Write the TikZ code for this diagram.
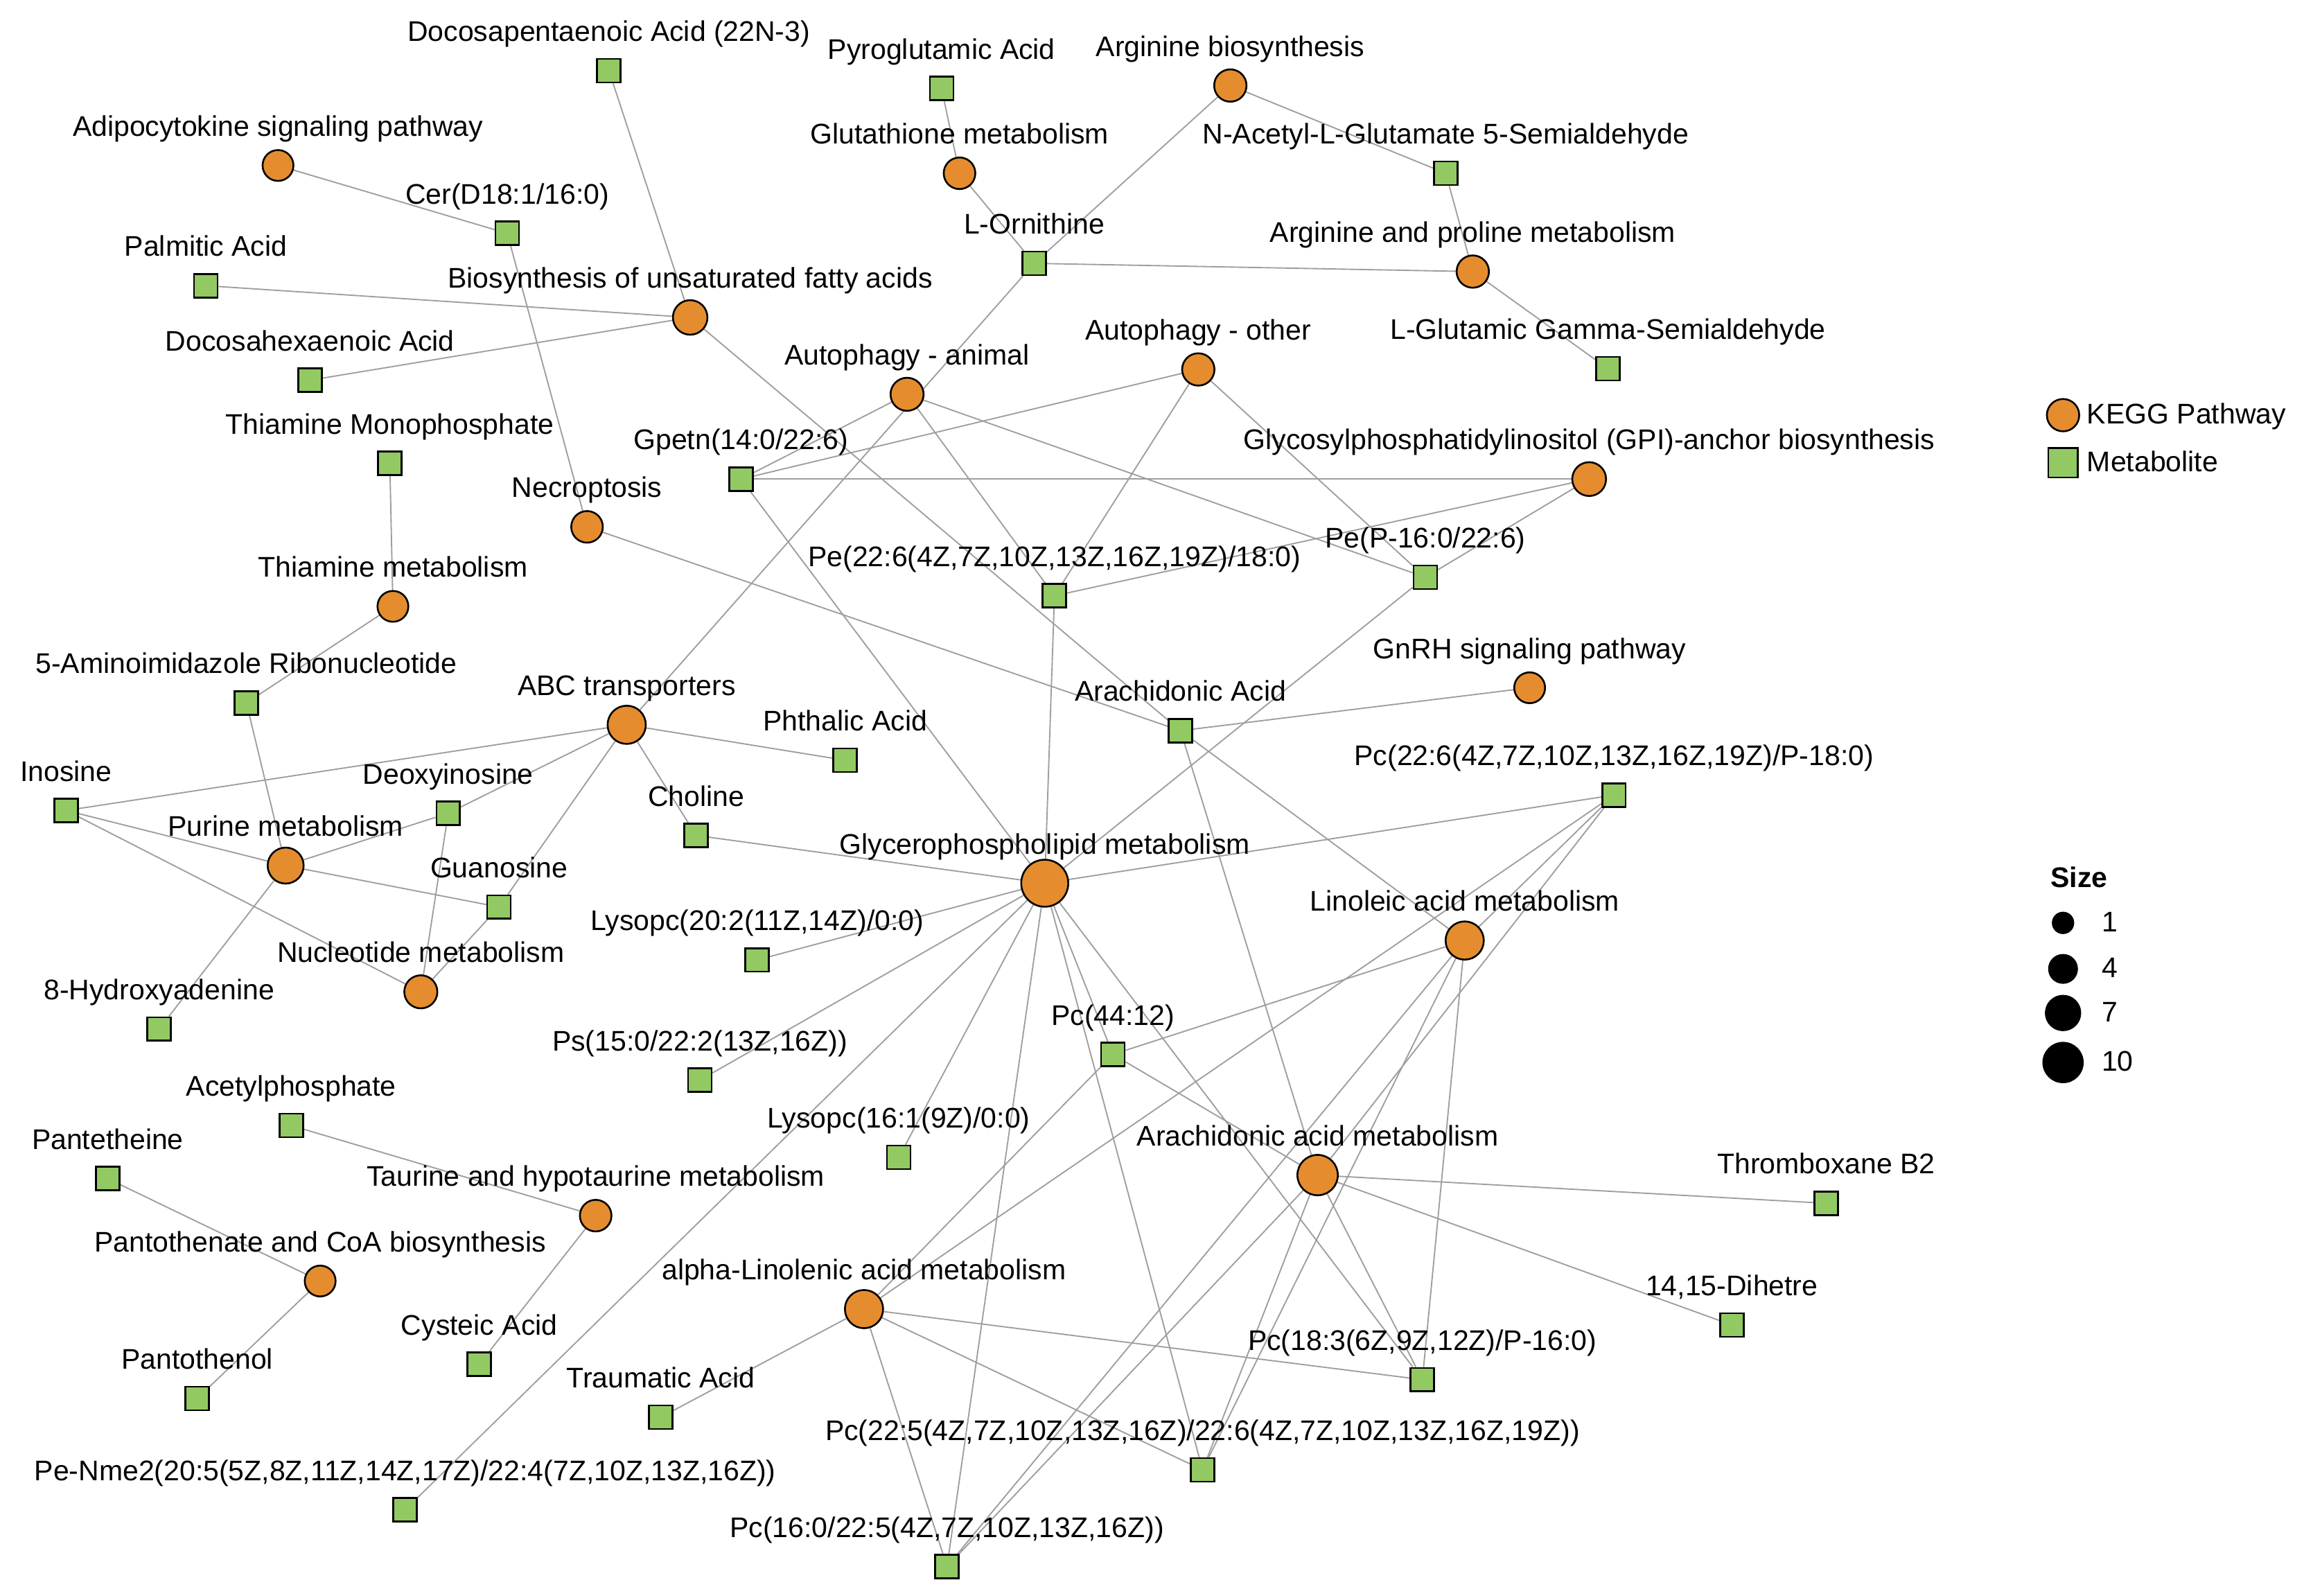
\documentclass[tikz,border=0pt]{standalone}
\usepackage{fontspec}
\setmainfont{Liberation Sans}
\pgfdeclarelayer{bg}
\pgfsetlayers{bg,main}
\definecolor{pathorange}{RGB}{229,141,46}
\definecolor{metgreen}{RGB}{147,201,99}
\definecolor{edgegray}{RGB}{158,158,158}
\tikzset{
  pw/.style={circle, draw=black, line width=0.7pt, fill=pathorange, minimum size=#1*0.02cm, inner sep=0pt},
  met/.style={rectangle, draw=black, line width=0.7pt, fill=metgreen, minimum size=0.32cm, inner sep=0pt},
  lbl/.style={font=\fontsize{11}{13}\selectfont, anchor=base, inner sep=0pt},
  legtext/.style={font=\fontsize{11}{13}\selectfont, anchor=base west, inner sep=0pt},
  link/.style={draw=edgegray, line width=0.5pt},
  sizedot/.style={circle, fill=black, minimum size=#1*0.02cm, inner sep=0pt},
}
\newcommand{\pwnode}[5]{\node[pw=#4] (#1) at (#2,#3) {}; \node[lbl] (#1-l) at (#2,#3-20) {#5};}
\newcommand{\metnode}[4]{\node[met] (#1) at (#2,#3) {}; \node[lbl] (#1-l) at (#2,#3-20) {#4};}

\begin{document}
\begin{tikzpicture}[x=0.02cm,y=-0.02cm]
\useasboundingbox (0,0) rectangle (1568,1086);

% pathways
\pwnode{adipo}{189.2}{112.6}{21}{Adipocytokine signaling pathway}
\pwnode{bufa}{469.7}{216}{23.5}{Biosynthesis of unsaturated fatty acids}
\pwnode{gluta}{653}{117.9}{21.5}{Glutathione metabolism}
\pwnode{argbio}{837.3}{58.2}{22}{Arginine biosynthesis}
\pwnode{argpro}{1002.3}{184.8}{22}{Arginine and proline metabolism}
\pwnode{autoan}{617.3}{268.3}{22.5}{Autophagy - animal}
\pwnode{autoot}{815.5}{251.4}{22}{Autophagy - other}
\pwnode{gpi}{1081.5}{326}{23}{Glycosylphosphatidylinositol (GPI)-anchor biosynthesis}
\pwnode{necro}{399.5}{358.5}{21.5}{Necroptosis}
\pwnode{thiam}{267.4}{412.6}{21}{Thiamine metabolism}
\pwnode{abc}{426.5}{493.2}{26}{ABC transporters}
\pwnode{gnrh}{1041}{468}{21}{GnRH signaling pathway}
\pwnode{purine}{194.4}{589}{24.5}{Purine metabolism}
\pwnode{gpl}{711}{601}{32}{Glycerophospholipid metabolism}
\pwnode{linol}{996.8}{640}{26}{Linoleic acid metabolism}
\pwnode{nucl}{286.4}{674.9}{22.5}{Nucleotide metabolism}
\pwnode{aam}{896.7}{799.6}{27.5}{Arachidonic acid metabolism}
\pwnode{taur}{405.4}{827.2}{21.5}{Taurine and hypotaurine metabolism}
\pwnode{panto}{217.9}{871.7}{21}{Pantothenate and CoA biosynthesis}
\pwnode{alin}{588}{890.8}{26}{alpha-Linolenic acid metabolism}

% metabolites
\metnode{dpa}{414.4}{48.1}{Docosapentaenoic Acid (22N-3)}
\metnode{pyro}{640.8}{60.2}{Pyroglutamic Acid}
\metnode{nag}{983.9}{117.9}{N-Acetyl-L-Glutamate 5-Semialdehyde}
\metnode{cer}{345.2}{158.8}{Cer(D18:1/16:0)}
\metnode{palm}{140.1}{194.4}{Palmitic Acid}
\metnode{orn}{703.8}{179.2}{L-Ornithine}
\metnode{dha}{211}{258.7}{Docosahexaenoic Acid}
\metnode{lglu}{1094.3}{250.9}{L-Glutamic Gamma-Semialdehyde}
\metnode{tmp}{265.3}{315.2}{Thiamine Monophosphate}
\metnode{gpetn}{504.3}{326}{Gpetn(14:0/22:6)}
\metnode{pea}{717.6}{405.4}{Pe(22:6(4Z,7Z,10Z,13Z,16Z,19Z)/18:0)}
\metnode{pep}{970}{392.8}{Pe(P-16:0/22:6)}
\metnode{air}{167.7}{478.3}{5-Aminoimidazole Ribonucleotide}
\metnode{aa}{803.4}{497.2}{Arachidonic Acid}
\metnode{phth}{575.1}{517.3}{Phthalic Acid}
\metnode{ino}{45}{551.5}{Inosine}
\metnode{dino}{305}{553.4}{Deoxyinosine}
\metnode{chol}{473.8}{568.5}{Choline}
\metnode{pcb}{1098.4}{541}{Pc(22:6(4Z,7Z,10Z,13Z,16Z,19Z)/P-18:0)}
\metnode{guan}{339.6}{617.2}{Guanosine}
\metnode{lysa}{515.3}{653.2}{Lysopc(20:2(11Z,14Z)/0:0)}
\metnode{oha}{108.3}{700.2}{8-Hydroxyadenine}
\metnode{pcc}{757.4}{717.5}{Pc(44:12)}
\metnode{psa}{476.3}{735}{Ps(15:0/22:2(13Z,16Z))}
\metnode{acet}{198.2}{765.9}{Acetylphosphate}
\metnode{lysb}{611.7}{787.5}{Lysopc(16:1(9Z)/0:0)}
\metnode{pant}{73.3}{802}{Pantetheine}
\metnode{txb}{1242.9}{818.8}{Thromboxane B2}
\metnode{cyst}{326.2}{928.3}{Cysteic Acid}
\metnode{dihe}{1178.6}{901.6}{14,15-Dihetre}
\metnode{pcd}{968}{938.8}{Pc(18:3(6Z,9Z,12Z)/P-16:0)}
\metnode{pantol}{134.2}{951.6}{Pantothenol}
\metnode{traum}{449.6}{964.4}{Traumatic Acid}
\metnode{pce}{818.4}{1000.2}{Pc(22:5(4Z,7Z,10Z,13Z,16Z)/22:6(4Z,7Z,10Z,13Z,16Z,19Z))}
\metnode{penm}{275.7}{1027.4}{Pe-Nme2(20:5(5Z,8Z,11Z,14Z,17Z)/22:4(7Z,10Z,13Z,16Z))}
\metnode{pcf}{644.5}{1066}{Pc(16:0/22:5(4Z,7Z,10Z,13Z,16Z))}

\begin{pgfonlayer}{bg}
\fill[white] (0,0) rectangle (1568,1086);
\foreach \a/\b in {adipo/cer, cer/necro, dpa/bufa, palm/bufa, dha/bufa, bufa/aa,
  pyro/gluta, gluta/orn, argbio/orn, argbio/nag, nag/argpro, orn/argpro, argpro/lglu, orn/abc,
  autoan/gpetn, autoan/pea, autoan/pep, autoot/gpetn, autoot/pea, autoot/pep,
  gpi/gpetn, gpi/pea, gpi/pep, necro/aa, tmp/thiam, thiam/air, air/purine,
  ino/abc, ino/purine, ino/nucl, dino/abc, dino/purine, dino/nucl,
  guan/purine, guan/abc, guan/nucl, oha/purine, chol/abc, chol/gpl, phth/abc,
  gnrh/aa, aa/linol, aa/aam,
  gpl/gpetn, gpl/pea, gpl/pep, gpl/pcb, gpl/lysa, gpl/psa, gpl/penm, gpl/lysb,
  gpl/pcf, gpl/pce, gpl/pcc, gpl/pcd,
  linol/pcc, linol/pcd, linol/pce, linol/pcf, linol/pcb,
  alin/traum, alin/pcc, alin/pcb, alin/pcd, alin/pce, alin/pcf,
  aam/pcc, aam/txb, aam/dihe, aam/pcd, aam/pce, aam/pcf, aam/pcb,
  acet/taur, taur/cyst, pant/panto, panto/pantol}
  \draw[link] (\a) -- (\b);
\end{pgfonlayer}

% legend
\node[pw=22] (legpw) at (1404,282.5) {};
\node[legtext] (legpw-t) at (1420,288.5) {KEGG Pathway};
\node[met, minimum size=20*0.02cm] (legmet) at (1404,315) {};
\node[legtext] (legmet-t) at (1420,321) {Metabolite};
\node[lbl, font=\fontsize{11}{13}\selectfont\bfseries] (sizet) at (1415,604) {Size};
\node[sizedot=15.2] (s1) at (1404,628) {};
\node[sizedot=20.3] (s4) at (1404,659.3) {};
\node[sizedot=24.7] (s7) at (1404,689.3) {};
\node[sizedot=28.1] (s10) at (1404,723) {};
\node[legtext] (s1-t) at (1430,634) {1};
\node[legtext] (s4-t) at (1430,665.3) {4};
\node[legtext] (s7-t) at (1430,695.3) {7};
\node[legtext] (s10-t) at (1430,729) {10};
\end{tikzpicture}
\end{document}
